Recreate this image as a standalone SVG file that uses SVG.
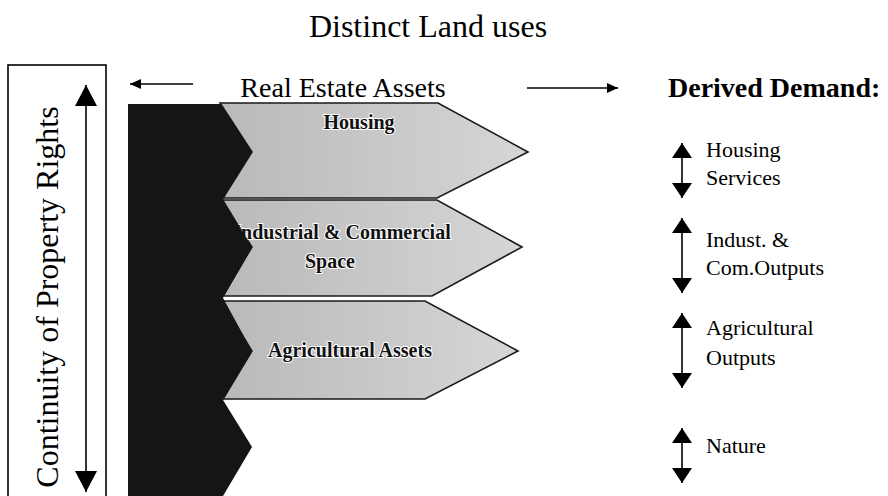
<svg xmlns="http://www.w3.org/2000/svg" width="888" height="496" viewBox="0 0 888 496">
<style>
.serif{font-family:"Liberation Serif","Times New Roman",serif;fill:#000}
.lbl{font-family:"Liberation Serif","Times New Roman",serif;font-weight:bold;font-size:20px;fill:#111;stroke:#fff;stroke-width:2px;paint-order:stroke;text-anchor:middle}
.chev{stroke:#1a1a1a;stroke-width:1.6;fill:url(#g)}
.ln{stroke:#000;stroke-width:1.6;fill:none}
.dd{font-family:"Liberation Serif","Times New Roman",serif;font-size:22px;fill:#000}
</style>
<defs>
<linearGradient id="g" x1="0" x2="1" y1="0" y2="0">
<stop offset="0" stop-color="#b9b9b9"/>
<stop offset="1" stop-color="#d6d6d6"/>
</linearGradient>
<marker id="bigHead" markerUnits="userSpaceOnUse" markerWidth="22" markerHeight="22" refX="21" refY="11" orient="auto-start-reverse">
<path d="M0,0 L21,11 L0,22 Z" fill="#000"/>
</marker>
<marker id="smHead" markerUnits="userSpaceOnUse" markerWidth="16" markerHeight="20" refX="15" refY="10" orient="auto-start-reverse">
<path d="M0,0 L15,10 L0,20 Z" fill="#000"/>
</marker>
<marker id="tinyHead" markerUnits="userSpaceOnUse" markerWidth="12" markerHeight="10" refX="11" refY="5" orient="auto-start-reverse">
<path d="M0,0 L11,5 L0,10 Z" fill="#000"/>
</marker>
</defs>
<rect width="888" height="496" fill="#fff"/>

<g id="title">
<text class="serif" x="428" y="37" font-size="32" text-anchor="middle">Distinct Land uses</text>
</g>

<g id="property-rights">
<rect x="8" y="65" width="98" height="445" fill="none" stroke="#000" stroke-width="1.6"/>
<text class="serif" font-size="32" text-anchor="middle" transform="translate(58,297) rotate(-90)">Continuity of Property Rights</text>
</g>

<g id="real-estate-assets">
<text class="serif" x="343" y="97" font-size="28" text-anchor="middle">Real Estate Assets</text>
</g>

<g id="housing">
<polygon class="chev" points="220,103 438,103 528,152 437,198 223,198 252,152"/>
<text class="lbl" x="359" y="129">Housing</text>
</g>
<g id="industrial">
<polygon class="chev" points="221,200 437,200 522,247 432,296 223,296 252,247"/>
<text class="lbl" x="342" y="239">Industrial &amp; Commercial</text>
<text class="lbl" x="330" y="268">Space</text>
</g>
<g id="agricultural">
<polygon class="chev" points="221,301 425,301 518,351 425,399 223,399 252,351"/>
<text class="lbl" x="350" y="357">Agricultural Assets</text>
</g>

<g id="nature-land">
<polygon points="128,104 221,104 252,152 223,199 252,247 223,298 252,351 223,400 252,447 223,496 128,496" fill="#151515"/>
</g>

<g id="derived-demand">
<text class="serif" x="668" y="97" font-size="28" font-weight="bold">Derived Demand:</text>
<text class="dd" x="706" y="157">Housing</text>
<text class="dd" x="706" y="185">Services</text>
<text class="dd" x="706" y="247">Indust. &amp;</text>
<text class="dd" x="706" y="275">Com.Outputs</text>
<text class="dd" x="706" y="335">Agricultural</text>
<text class="dd" x="706" y="365">Outputs</text>
<text class="dd" x="706" y="453">Nature</text>
</g>

<g id="connectors">
<line class="ln" x1="86" y1="85" x2="86" y2="492" marker-start="url(#bigHead)" marker-end="url(#bigHead)"/>
<line class="ln" x1="193" y1="84" x2="130" y2="84" marker-end="url(#tinyHead)"/>
<line class="ln" x1="527" y1="88" x2="618" y2="88" marker-end="url(#tinyHead)"/>
<line class="ln" x1="682" y1="143" x2="682" y2="198" marker-start="url(#smHead)" marker-end="url(#smHead)"/>
<line class="ln" x1="682" y1="218" x2="682" y2="293" marker-start="url(#smHead)" marker-end="url(#smHead)"/>
<line class="ln" x1="682" y1="313" x2="682" y2="388" marker-start="url(#smHead)" marker-end="url(#smHead)"/>
<line class="ln" x1="682" y1="428" x2="682" y2="483" marker-start="url(#smHead)" marker-end="url(#smHead)"/>
</g>
</svg>
